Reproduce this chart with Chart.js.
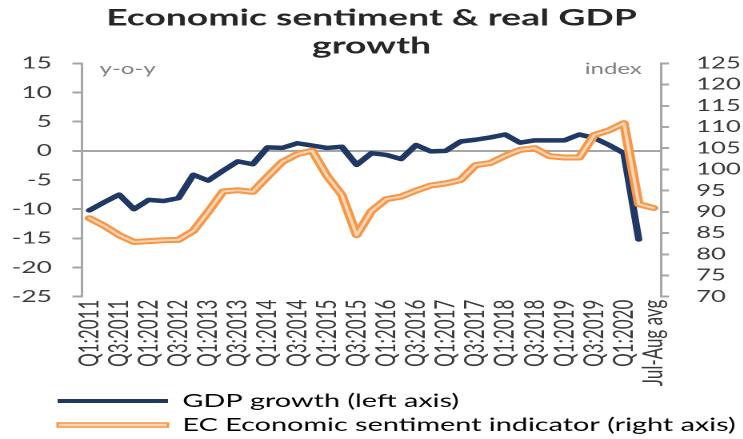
<!DOCTYPE html>
<html>
<head>
<meta charset="utf-8">
<script src="https://cdn.jsdelivr.net/npm/chart.js@4.4.1/dist/chart.umd.min.js"></script>
<style>
  html, body { margin: 0; padding: 0; background: #ffffff; overflow: hidden; }
  #wrap { position: absolute; left: 0; top: 0; width: 464.375px; height: 439px;
          transform: scaleX(1.6); transform-origin: 0 0; }
</style>
</head>
<body>
<div id="wrap"><canvas id="c"></canvas></div>
<script>
const categories = [
  'Q1:2011','Q2:2011','Q3:2011','Q4:2011','Q1:2012','Q2:2012','Q3:2012','Q4:2012',
  'Q1:2013','Q2:2013','Q3:2013','Q4:2013','Q1:2014','Q2:2014','Q3:2014','Q4:2014',
  'Q1:2015','Q2:2015','Q3:2015','Q4:2015','Q1:2016','Q2:2016','Q3:2016','Q4:2016',
  'Q1:2017','Q2:2017','Q3:2017','Q4:2017','Q1:2018','Q2:2018','Q3:2018','Q4:2018',
  'Q1:2019','Q2:2019','Q3:2019','Q4:2019','Q1:2020','Q2:2020','Jul-Aug avg'
];
const gdpGrowth = [
  -10.2, -8.8, -7.5, -10.0, -8.4, -8.6, -8.1, -4.1,
  -5.1, -3.4, -1.8, -2.3, 0.6, 0.5, 1.3, 0.9,
  0.5, 0.7, -2.4, -0.4, -0.7, -1.4, 1.0, -0.1,
  0.0, 1.6, 1.9, 2.3, 2.8, 1.4, 1.8, 1.8,
  1.8, 2.8, 2.2, 1.0, -0.4, -15.2, null
];
const sentiment = [
  88.5, 86.7, 84.5, 82.9, 83.1, 83.3, 83.4, 85.5,
  90.0, 94.8, 95.1, 94.7, 98.3, 101.8, 103.6, 104.4,
  98.5, 94.0, 84.5, 90.2, 93.0, 93.6, 95.0, 96.2,
  96.7, 97.5, 101.0, 101.5, 103.2, 104.6, 105.0, 103.1,
  102.8, 102.8, 108.1, 109.2, 110.9, 91.8, 90.9
];
const titleLines = ['Economic sentiment & real GDP', 'growth'];
const legendLabels = ['GDP growth (left axis)', 'EC Economic sentiment indicator (right axis)'];
const leftAxisUnit = 'y-o-y';
const rightAxisUnit = 'index';

const navy = '#1f3864';
const orange = '#f79646';
const peach = '#fcd5b4';
const axisGray = '#a6a6a6';
const textDark = '#3a3a3a';

Chart.defaults.font.family = 'Lato';

const unitLabels = {
  id: 'unitLabels',
  afterLayout(chart) {
    // legend sits indented, like the reference
    if (chart.legend) { chart.legend.left = 30; }
  },
  afterDraw(chart) {
    const ctx = chart.ctx;
    ctx.save();
    ctx.font = '15px Lato';
    ctx.fillStyle = '#7f7f7f';
    ctx.textBaseline = 'middle';
    ctx.textAlign = 'left';
    ctx.fillText(leftAxisUnit, chart.chartArea.left + 11, 69);
    ctx.textAlign = 'right';
    ctx.fillText(rightAxisUnit, chart.chartArea.right - 12, 69);
    ctx.restore();
  }
};

new Chart(document.getElementById('c'), {
  type: 'line',
  data: {
    labels: categories,
    datasets: [
      { label: legendLabels[0], data: gdpGrowth, yAxisID: 'y', borderColor: navy,
        backgroundColor: navy, borderWidth: 4.5, pointRadius: 0, tension: 0,
        borderJoinStyle: 'round', borderCapStyle: 'round', order: 2 },
      { label: legendLabels[1], data: sentiment, yAxisID: 'y1', borderColor: orange,
        backgroundColor: orange, borderWidth: 6, pointRadius: 0, tension: 0,
        borderJoinStyle: 'round', borderCapStyle: 'round', order: 1 },
      { label: legendLabels[1] + ' core', data: sentiment, yAxisID: 'y1', borderColor: peach,
        backgroundColor: peach, borderWidth: 2, pointRadius: 0, tension: 0,
        borderJoinStyle: 'round', borderCapStyle: 'round', order: 0 }
    ]
  },
  options: {
    responsive: true,
    maintainAspectRatio: false,
    animation: false,
    devicePixelRatio: 2,
    layout: { padding: { left: 0, right: 0, top: 0, bottom: -5 } },
    plugins: {
      tooltip: { enabled: false },
      title: {
        display: true,
        text: titleLines,
        color: '#262626',
        font: { size: 23.3, weight: 'bold', lineHeight: 1.2 },
        padding: { top: 4, bottom: 3.4 }
      },
      legend: {
        position: 'bottom',
        align: 'start',
        labels: {
          boxWidth: 69,
          boxHeight: 4,
          padding: 6,
          color: textDark,
          font: { size: 18 },
          generateLabels() {
            return [
              { text: legendLabels[0], fillStyle: navy, strokeStyle: navy, lineWidth: 0,
                datasetIndex: 0, hidden: false },
              { text: legendLabels[1], fillStyle: peach, strokeStyle: orange, lineWidth: 1.5,
                datasetIndex: 1, hidden: false }
            ];
          }
        }
      }
    },
    scales: {
      x: {
        type: 'category',
        offset: true,
        grid: { display: false, drawTicks: false },
        border: { display: false },
        ticks: {
          autoSkip: false, maxRotation: 90, minRotation: 90, padding: 3,
          color: textDark, font: { size: 17 },
          callback(value, index) { return index % 2 === 0 ? categories[index] : ''; }
        },
        afterFit(scale) { scale.height = 89.3; }
      },
      y: {
        position: 'left',
        min: -25, max: 15,
        ticks: { stepSize: 5, autoSkip: false, padding: 12.75, color: textDark, font: { size: 16.5 } },
        grid: {
          drawOnChartArea: true,
          color: (c) => (c.tick && c.tick.value === 0) ? axisGray : 'rgba(0,0,0,0)',
          tickColor: axisGray, tickLength: 6, lineWidth: 2
        },
        border: { display: true, color: axisGray, width: 1.5 },
        afterFit(scale) { scale.width = 51.25; }
      },
      y1: {
        position: 'right',
        min: 70, max: 125,
        ticks: { stepSize: 5, autoSkip: false, padding: 17, color: textDark, font: { size: 16 } },
        grid: { drawOnChartArea: false, tickColor: axisGray, tickLength: 5, lineWidth: 2 },
        border: { display: true, color: axisGray, width: 1.5 },
        afterFit(scale) { scale.width = 51.25; }
      }
    }
  },
  plugins: [unitLabels]
});
</script>
</body>
</html>
